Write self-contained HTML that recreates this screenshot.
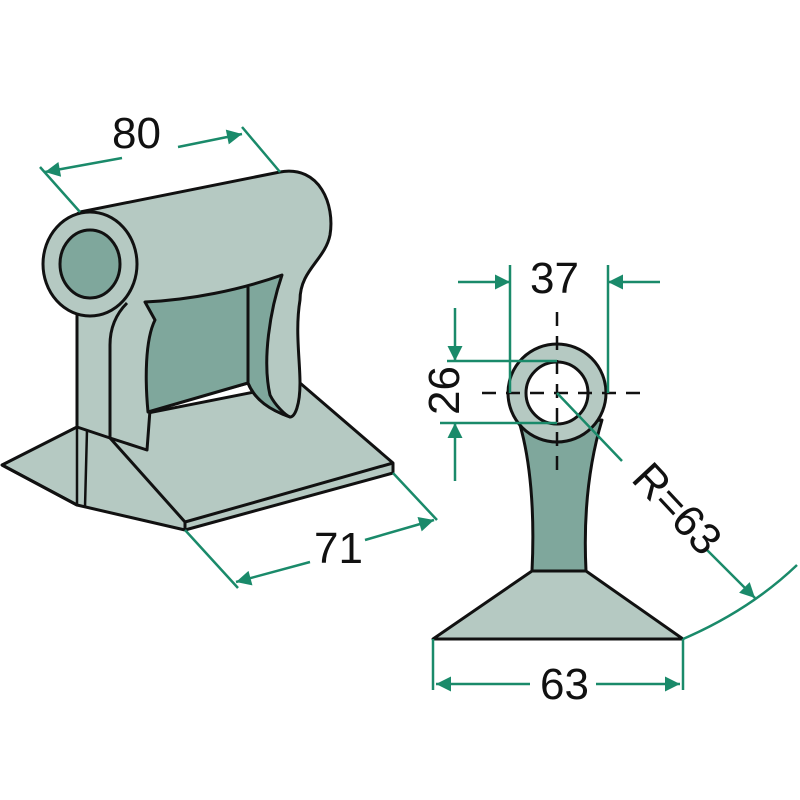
<!DOCTYPE html><html><head><style>body{margin:0;background:#fff}svg{display:block}text{font-family:"Liberation Sans",sans-serif;font-size:44px;fill:#111}</style></head><body>
<svg width="800" height="800" viewBox="0 0 800 800">
<defs><marker id="b" viewBox="0 0 10 10" refX="10" refY="5" markerWidth="28" markerHeight="15" orient="auto" markerUnits="userSpaceOnUse"><path d="M0,0L10,5L0,10z" fill="#1a8a6a"/></marker></defs>
<g stroke="#111" stroke-width="3" stroke-linejoin="round">
<path d="M2,465L77,427L300,383L393,463L393,473L185,530L77,505Z" fill="#b5c9c2"/>
<path d="M110,438L185,522L393,463" fill="none"/>
<path d="M185,522L185,530" fill="none"/>
<path d="M77,427L77,505M87,430L85,507" fill="none" stroke-width="2.5"/>
<path d="M2,465L77,505" fill="none"/>
<path d="M80,212L280,172C320,165 335,205 330,235C325,260 300,270 300,300C295,330 300,360 300,383C300,405 295,417 290,417C270,410 255,400 248,383L150,410L147,450L110,438L77,427L77,313C50,290 40,240 80,212Z" fill="#b5c9c2"/>
<path d="M145,302C190,300 240,290 282,275C270,310 262,360 270,395C275,405 285,415 290,417C270,410 255,400 248,383L148,412C145,380 145,340 155,320Z" fill="#7fa79c"/>
<path d="M248,287L248,383" fill="none"/>
<path d="M127,303C115,315 110,330 110,345L110,438" fill="none"/>
<ellipse cx="90" cy="264" rx="47" ry="52" fill="#b5c9c2"/>
<ellipse cx="90" cy="264" rx="30" ry="34" fill="#7fa79c"/>
<path d="M433,639L532,571L586,571L683,639Z" fill="#b5c9c2"/>
<path d="M520,425C530,460 535,510 532,571L586,571C583,510 590,460 602,420Z" fill="#7fa79c"/>
<circle cx="557" cy="393" r="49" fill="#b5c9c2"/>
<circle cx="557" cy="393" r="31" fill="#fff"/>
</g>
<g stroke="#111" stroke-width="2.5" stroke-dasharray="14 10" fill="none">
<path d="M482,393L645,393M557,312L557,475"/>
</g>
<g stroke="#1a8a6a" stroke-width="2.5" fill="none">
<path d="M40,167L80,212M242,127L280,172"/>
<path d="M122,158L45,172" marker-end="url(#b)"/>
<path d="M178,147L242,134" marker-end="url(#b)"/>
<path d="M185,530L238,588M393,473L437,520"/>
<path d="M310,562L236,582" marker-end="url(#b)"/>
<path d="M365,540L434,520" marker-end="url(#b)"/>
<path d="M510,265L510,393M608,265L608,393"/>
<path d="M458,282L510,282" marker-end="url(#b)"/>
<path d="M660,282L608,282" marker-end="url(#b)"/>
<path d="M447,361L557,361M440,423L557,423"/>
<path d="M455,308L455,361" marker-end="url(#b)"/>
<path d="M455,481L455,423" marker-end="url(#b)"/>
<path d="M557,393L622,461"/>
<path d="M705,548L755,598" marker-end="url(#b)"/>
<path d="M683,639Q750,610 797,565"/>
<path d="M433,639L433,690M683,639L683,690"/>
<path d="M530,684L436,684" marker-end="url(#b)"/>
<path d="M596,684L680,684" marker-end="url(#b)"/>
</g>
<text x="112" y="148">80</text>
<text x="314" y="563">71</text>
<text x="530" y="293">37</text>
<text x="540" y="699">63</text>
<text transform="translate(459,415) rotate(-90)">26</text>
<text transform="translate(630,480) rotate(47)">R=63</text>
</svg></body></html>
